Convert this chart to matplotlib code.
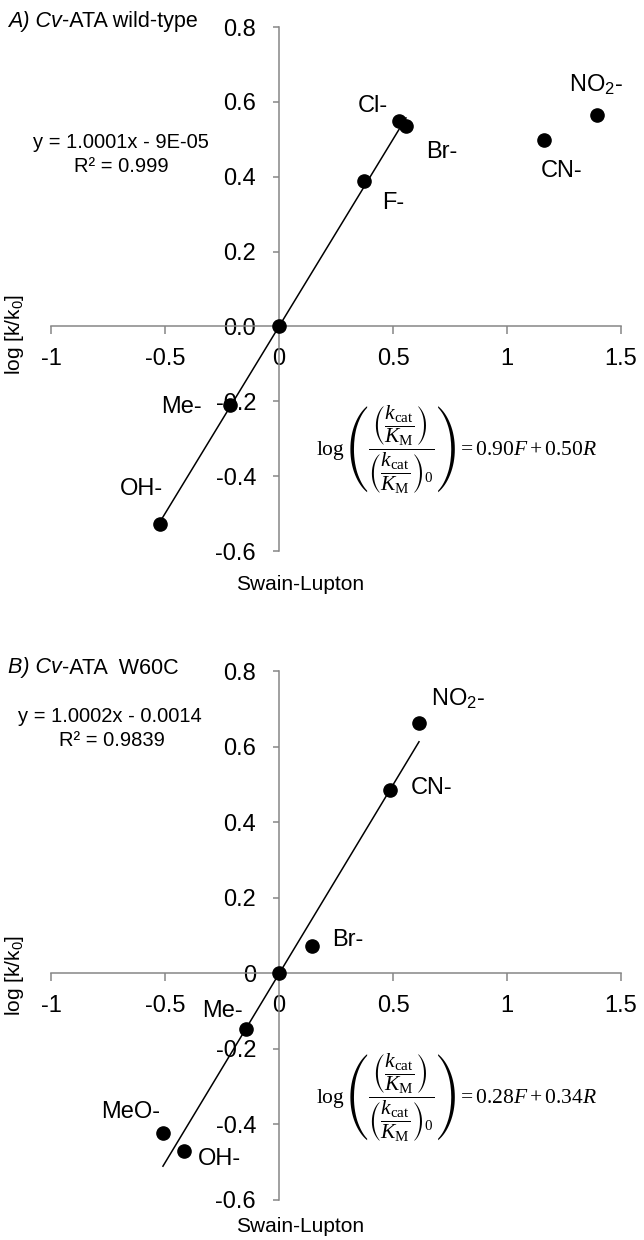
import numpy as np
import matplotlib
matplotlib.use('Agg')
import matplotlib.pyplot as plt

plt.rcParams.update({
    'font.family': ['Liberation Sans', 'DejaVu Sans'],
    'mathtext.fontset': 'custom',
    'mathtext.rm': 'Liberation Serif',
    'mathtext.it': 'Liberation Serif:italic',
    'mathtext.bf': 'Liberation Serif:bold',
    'mathtext.sf': 'Liberation Sans',
    'mathtext.fallback': 'stix',
})

AXIS_GREY = '#868686'

# ---- panel A: Cv-ATA wild-type ----
a_names = ['OH-', 'Me-', '', 'F-', 'Cl-', 'Br-', 'CN-', 'NO$_\\mathsf{2}$-']
a_x = [-0.524, -0.215, 0.0, 0.374, 0.528, 0.557, 1.162, 1.395]
a_y = [-0.528, -0.211, 0.0, 0.389, 0.549, 0.536, 0.497, 0.564]
a_in_fit = [True, True, True, True, True, True, False, False]
a_slope, a_icept = 1.0001, -9e-05
a_fit_text = ['y = 1.0001x - 9E-05', 'R² = 0.999']
a_yticklabels = ['-0.6', '-0.4', '-0.2', '0.0', '0.2', '0.4', '0.6', '0.8']
a_rho = ['0.90', '0.50']

# ---- panel B: Cv-ATA W60C ----
b_names = ['MeO-', 'OH-', 'Me-', '', 'Br-', 'CN-', 'NO$_\\mathsf{2}$-']
b_x = [-0.509, -0.415, -0.145, 0.0, 0.143, 0.488, 0.614]
b_y = [-0.422, -0.469, -0.148, 0.0, 0.071, 0.484, 0.663]
b_in_fit = [True] * 7
b_slope, b_icept = 1.0002, -0.0014
b_fit_text = ['y = 1.0002x - 0.0014', 'R² = 0.9839']
b_yticklabels = ['-0.6', '-0.4', '-0.2', '0', '0.2', '0.4', '0.6', '0.8']
b_rho = ['0.28', '0.34']

xticks = [-1, -0.5, 0, 0.5, 1, 1.5]
xticklabels = ['-1', '-0.5', '0', '0.5', '1', '1.5']
yticks = [-0.6, -0.4, -0.2, 0.0, 0.2, 0.4, 0.6, 0.8]

# label offsets in points (dx, dy) from each marker
a_offsets = [(-13, 25), (-35, -1), (0, 0), (21, -16), (-19, 11), (26, -19), (13, -22), (-1, 22)]
b_offsets = [(-23, 15), (25, -6), (-17, 13), (0, 0), (26, 5), (30, 2), (28, 17)]

W, H = 644, 1240
fig = plt.figure(figsize=(W / 100, H / 100), dpi=100)


def px_box(left, top, right, bottom):
    return [left / W, 1 - bottom / H, (right - left) / W, (bottom - top) / H]


def draw_panel(ax, xs, ys, names, offsets, in_fit, slope, icept, yticklabels, rho):
    ax.set_xlim(-1, 1.5)
    ax.set_ylim(-0.6, 0.8)
    for s in ['top', 'right']:
        ax.spines[s].set_visible(False)
    ax.spines['left'].set_position(('data', 0))
    ax.spines['bottom'].set_position(('data', 0))
    for s in ['left', 'bottom']:
        ax.spines[s].set_color(AXIS_GREY)
        ax.spines[s].set_linewidth(1.1)
    ax.set_xticks(xticks)
    ax.set_xticklabels(xticklabels)
    ax.set_yticks(yticks)
    ax.set_yticklabels(yticklabels)
    ax.tick_params(axis='both', direction='out', color=AXIS_GREY, width=1.1,
                   labelsize=17, labelcolor='black')
    ax.tick_params(axis='x', length=5.5, pad=10)
    ax.tick_params(axis='y', length=4.5, pad=12)

    # trendline across the fitted points
    fx = np.array([x for x, f in zip(xs, in_fit) if f])
    lx = np.array([fx.min(), fx.max()])
    ax.plot(lx, slope * lx + icept, color='black', lw=1.1, zorder=3)
    ax.plot(xs, ys, 'o', color='black', ms=9.5, zorder=4, clip_on=False)

    for x, y, name, off in zip(xs, ys, names, offsets):
        if name:
            ax.annotate(name, (x, y), xytext=off, textcoords='offset points',
                        ha='center', va='center', fontsize=17)

    ratio = r'\left(\dfrac{k_{\mathrm{cat}}}{K_{\mathrm{M}}}\right)'
    eq = (r'$\log\left(\dfrac{' + ratio + '}{' + ratio + r'_{0}}\right)'
          r' = ' + rho[0] + r'F + ' + rho[1] + r'R$')
    ax.text(0.162, -0.33, eq, fontsize=15.5, ha='left', va='center')


# panel A
axA = fig.add_axes(px_box(51, 27, 621, 551))
draw_panel(axA, a_x, a_y, a_names, a_offsets, a_in_fit, a_slope, a_icept,
           a_yticklabels, a_rho)

# panel B
axB = fig.add_axes(px_box(51, 671, 621, 1200))
draw_panel(axB, b_x, b_y, b_names, b_offsets, b_in_fit, b_slope, b_icept,
           b_yticklabels, b_rho)


def fig_text(xp, yp, s, **kw):
    return fig.text(xp / W, 1 - yp / H, s, **kw)


def panel_title(yp, letter, suffix):
    # italic "X) Cv" followed by the upright rest of the title
    t = fig_text(8, yp, letter + ') Cv', fontsize=15.5, style='italic',
                 ha='left', va='center')
    fig.canvas.draw()
    bb = t.get_window_extent()
    fig.text(bb.x1 / W, 1 - yp / H, suffix, fontsize=15.5, ha='left', va='center')


panel_title(22, 'A', '-ATA wild-type')
panel_title(668, 'B', '-ATA  W60C')

# trendline equations
fig_text(121, 143, a_fit_text[0], fontsize=14.5, ha='center', va='center')
fig_text(121, 167, a_fit_text[1], fontsize=14.5, ha='center', va='center')
fig_text(110, 716, b_fit_text[0], fontsize=14.5, ha='center', va='center')
fig_text(112, 740, b_fit_text[1], fontsize=14.5, ha='center', va='center')

# axis titles
for yp_x, yp_y in [(585, 334), (1226, 975)]:
    fig_text(300, yp_x, 'Swain-Lupton', fontsize=15, ha='center', va='center')
    fig_text(14, yp_y, r'log [k/k$_\mathsf{0}$]', fontsize=15, rotation=90,
             ha='center', va='center')

fig.savefig('out.png', dpi=100)
